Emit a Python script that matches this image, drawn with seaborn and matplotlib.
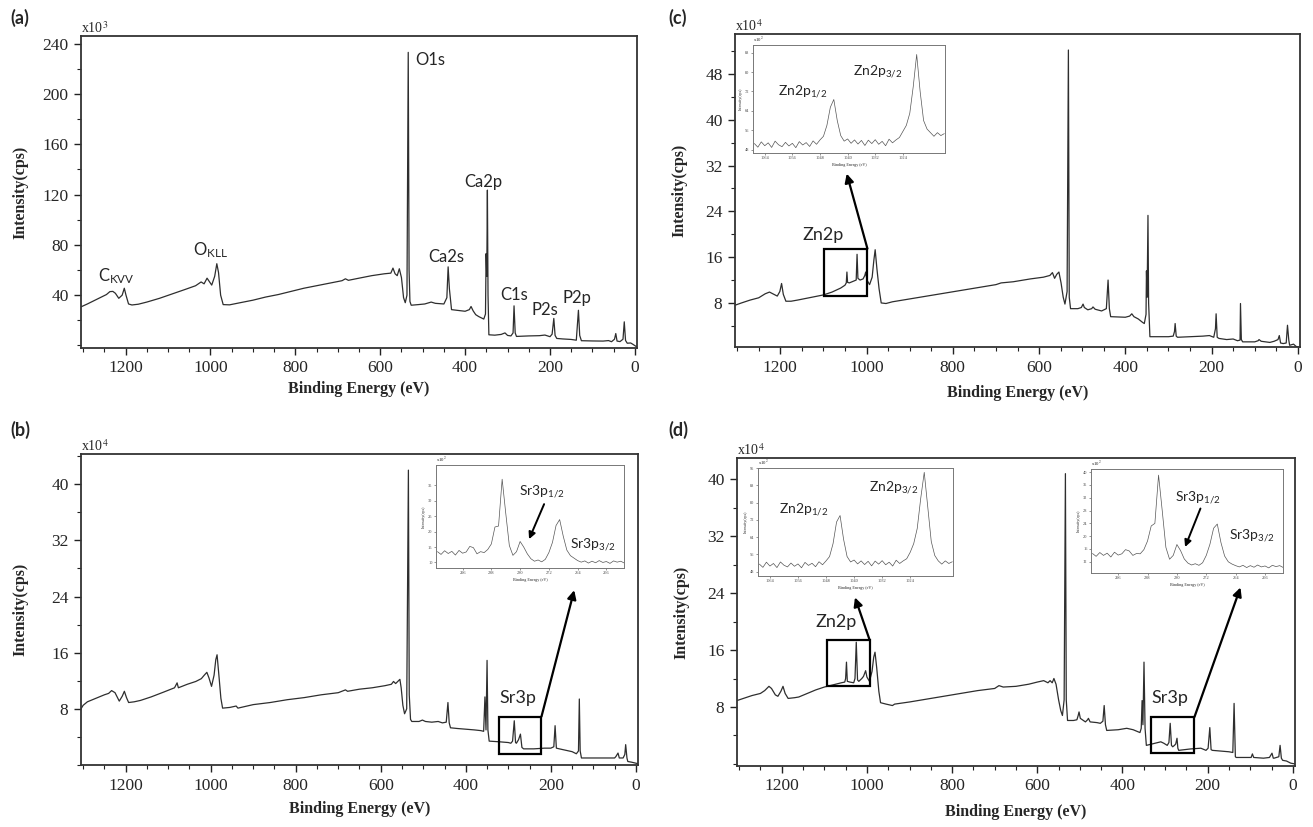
import matplotlib
matplotlib.use("Agg")
import matplotlib.pyplot as plt
from matplotlib.patches import Rectangle
from matplotlib.ticker import MultipleLocator, FixedLocator
import seaborn as sns

# ---------------- survey spectra (binding energy in eV, intensity in panel units) ----------------
# (a) HA, intensity x10^3
a_energy = [1305, 1290, 1275, 1260, 1245, 1237, 1230, 1224, 1216, 1208, 1203, 1199, 1193, 1185, 1170,
            1150, 1120, 1090, 1060, 1035, 1022, 1015, 1008, 1002, 997, 990, 985, 981, 976, 970, 955,
            930, 900, 870, 840, 810, 780, 750, 720, 690, 682, 675, 650, 620, 590, 575, 570, 565, 560,
            555, 550, 545, 541, 537, 534, 532, 530, 527, 510, 495, 480, 470, 450, 443, 440, 437, 432,
            420, 400, 390, 386, 381, 375, 368, 362, 356, 352, 350.5, 349, 347.5, 346, 344, 330, 315,
            306, 300, 292, 287, 284.7, 282, 279, 250, 225, 212, 200, 195, 191, 188, 184, 170, 150, 138,
            133, 130, 126, 100, 75, 62, 55, 48, 45, 42, 35, 28, 25, 22, 18, 10, 5, -4]
a_counts = [30.7, 33.0, 35.5, 38.0, 40.5, 42.8, 43.0, 41.5, 37.5, 40.0, 45.5, 40.0, 33.0, 32.2, 32.8,
            34.5, 37.5, 41.0, 44.5, 47.5, 50.5, 49.0, 53.5, 50.5, 48.0, 55.0, 65.0, 58.0, 40.0, 32.5, 32.3,
            34.0, 36.0, 38.5, 40.5, 43.0, 45.5, 47.5, 49.5, 51.5, 53.0, 51.8, 53.5, 55.5, 57.0, 57.5, 61.5,
            57.0, 55.5, 61.0, 54.0, 38.0, 34.0, 40.0, 233.0, 60.0, 35.0, 32.0, 32.5, 33.0, 34.5, 33.5,
            33.0, 38.0, 62.5, 45.0, 28.5, 28.0, 27.2, 28.5, 31.0, 27.5, 24.5, 23.0, 22.0, 21.0, 25.0,
            73.0, 55.0, 123.5, 40.0, 8.5, 8.2, 8.8, 10.0, 8.0, 7.6, 10.0, 31.5, 10.0, 7.2, 7.6, 7.8, 8.3,
            7.0, 9.0, 21.5, 8.0, 5.6, 5.2, 4.8, 4.2, 28.0, 8.0, 3.8, 3.6, 3.5, 3.9, 3.0, 5.0, 9.5, 3.5,
            3.1, 5.0, 18.8, 4.0, 1.8, 2.0, 1.0, -1.0]

# (b) Sr-doped, intensity x10^4
b_energy = [1305, 1300, 1290, 1270, 1250, 1240, 1233, 1225, 1215, 1208, 1203, 1198, 1193, 1180, 1165,
            1140, 1110, 1085, 1079, 1076, 1055, 1035, 1022, 1015, 1009, 1004, 998, 992, 988, 985, 981,
            976, 972, 955, 940, 936, 900, 860, 820, 780, 740, 700, 683, 678, 650, 620, 590, 575, 570,
            565, 560, 555, 552, 548, 544, 539, 535, 533, 530, 527, 510, 502, 495, 480, 465, 455, 446,
            442, 439, 436, 420, 400, 380, 365, 358, 355, 352.5, 350, 348, 345, 320, 300, 294, 290, 286,
            283, 281, 276, 271.5, 268, 264, 240, 215, 200, 193, 190, 187, 180, 165, 150, 140, 135, 133,
            131, 128, 100, 70, 50, 47, 42, 39, 30, 26, 24, 21, 19, 10, -4]
b_counts = [8.0, 8.5, 9.0, 9.5, 10.0, 10.2, 10.6, 10.3, 9.1, 9.8, 10.5, 9.6, 8.9, 9.0, 9.2,
            9.7, 10.4, 11.0, 11.7, 11.0, 11.5, 11.9, 12.3, 12.8, 13.2, 12.4, 11.2, 12.8, 15.0, 15.7, 13.0,
            9.5, 8.1, 8.2, 8.4, 8.1, 8.6, 8.9, 9.3, 9.6, 10.0, 10.3, 10.7, 10.5, 10.8, 11.0, 11.3, 11.5,
            11.9, 11.6, 11.9, 12.2, 11.0, 8.5, 7.3, 8.0, 42.0, 10.0, 6.5, 6.2, 6.2, 6.4, 6.2, 6.1, 6.2,
            6.0, 6.1, 8.9, 6.0, 5.3, 5.2, 5.1, 5.0, 4.9, 4.8, 9.7, 5.0, 14.9, 5.0, 3.4, 3.3, 3.2, 3.1,
            3.4, 6.3, 3.2, 3.1, 3.6, 4.4, 2.5, 2.3, 2.3, 2.4, 2.4, 2.6, 5.6, 2.4, 2.3, 2.1, 1.9, 1.6,
            2.0, 9.4, 2.0, 1.0, 1.0, 1.0, 1.0, 1.2, 1.7, 1.0, 1.0, 1.5, 2.9, 1.0, 0.5, 0.4, 0.2]

# (c) Zn-doped, intensity x10^4
c_energy = [1305, 1290, 1270, 1250, 1235, 1225, 1215, 1207, 1201, 1197, 1193, 1187, 1175, 1160, 1140,
            1120, 1100, 1080, 1060, 1050, 1047, 1045.5, 1044, 1040, 1030, 1024, 1022, 1020, 1015, 1008,
            1004, 1002, 999, 993, 987, 983, 980, 976, 971, 966, 955, 940, 900, 860, 820, 780, 740, 700,
            688, 660, 620, 590, 575, 569, 564, 559, 554, 549, 544, 540, 535, 532, 530, 527, 510, 502,
            498, 495, 487, 478, 475, 470, 455, 444, 440, 437, 434, 400, 390, 385, 380, 370, 360, 356,
            352, 351, 349.5, 347.5, 346, 343, 320, 300, 289, 286, 284.5, 282, 279, 250, 220, 205, 195,
            191, 189.5, 187, 183, 165, 150, 140, 134, 133, 131, 128, 100, 92, 90, 85, 65, 55, 46, 43,
            40, 34, 27, 24, 21, 19, 10, 4, -4]
c_counts = [7.6, 8.0, 8.5, 8.9, 9.6, 9.9, 9.5, 9.2, 10.0, 11.4, 9.5, 8.3, 8.3, 8.5, 8.8,
            9.1, 9.4, 9.9, 10.6, 11.1, 11.5, 13.4, 11.6, 11.5, 11.8, 12.0, 16.5, 12.3, 12.0, 12.2,
            12.8, 13.4, 12.0, 11.2, 12.5, 15.5, 17.3, 14.0, 10.5, 8.0, 7.9, 8.2, 8.7, 9.2, 9.7, 10.2,
            10.7, 11.2, 11.5, 11.7, 12.2, 12.5, 12.8, 13.3, 12.3, 13.0, 13.4, 11.5, 9.0, 7.8, 10.0, 52.2,
            9.0, 7.0, 7.0, 7.2, 7.8, 7.2, 6.8, 7.0, 7.3, 6.9, 6.6, 7.0, 12.0, 7.0, 5.6, 5.5, 5.7, 6.1,
            5.6, 5.2, 4.6, 4.4, 6.0, 13.6, 9.0, 23.3, 8.0, 2.1, 2.1, 2.1, 2.2, 3.0, 4.4, 2.2, 2.0, 2.1,
            2.2, 2.3, 2.0, 3.5, 6.1, 2.0, 1.8, 1.6, 1.7, 1.4, 1.5, 7.9, 1.6, 1.2, 1.2, 1.4, 1.6, 1.3,
            1.1, 1.3, 1.6, 2.3, 1.0, 0.9, 1.0, 4.1, 1.5, 0.6, 0.8, 0.4, 0.2]

# (d) Sr/Zn co-doped, intensity x10^4
d_energy = [1305, 1290, 1270, 1250, 1240, 1230, 1224, 1215, 1209, 1202, 1197, 1192, 1185, 1170, 1160,
            1140, 1120, 1100, 1080, 1060, 1052, 1050, 1048, 1046, 1040, 1031, 1028, 1025, 1022, 1019,
            1012, 1008, 1005, 1003, 1000, 994, 988, 984, 981, 977, 972, 968, 955, 940, 935, 900, 860,
            820, 780, 740, 700, 690, 680, 650, 620, 600, 585, 575, 570, 565, 561, 556, 550, 545, 541,
            537, 534, 532, 529, 515, 507, 504, 502, 499, 487, 482, 480, 476, 460, 452, 446, 443, 440,
            437, 410, 390, 375, 359, 356, 354, 352, 349.5, 347, 344, 330, 315, 310, 303, 295, 291, 288,
            285, 282, 278, 275, 272, 270, 268, 240, 216, 208, 204, 199, 195, 192, 189, 170, 150, 141,
            138, 135, 133, 110, 98, 95, 92, 69, 55, 49, 46, 44, 33, 30, 27, 24, 15, 5, -4]
d_counts = [8.9, 9.2, 9.6, 9.9, 10.3, 10.9, 10.6, 9.7, 9.5, 10.2, 10.9, 9.9, 9.2, 9.3, 9.4,
            9.9, 10.4, 10.8, 11.1, 11.4, 11.5, 12.0, 14.3, 11.6, 11.5, 11.4, 12.0, 17.1, 11.8, 11.6,
            12.0, 12.3, 12.8, 13.1, 12.2, 11.6, 13.0, 15.0, 15.7, 13.5, 10.2, 8.6, 8.4, 8.2, 8.4, 8.7,
            9.1, 9.5, 9.9, 10.3, 10.6, 11.0, 10.8, 10.9, 11.2, 11.5, 11.7, 11.4, 11.7, 11.4, 12.0, 11.2,
            9.0, 7.5, 6.8, 9.0, 40.8, 9.0, 6.1, 6.1, 6.2, 6.8, 7.3, 6.4, 5.9, 6.2, 6.4, 5.9, 5.8, 5.7,
            6.0, 8.2, 5.5, 4.7, 4.8, 5.0, 4.8, 4.4, 5.0, 8.9, 5.5, 14.3, 5.0, 2.6, 2.8, 3.0, 3.1, 2.9,
            2.6, 3.0, 5.7, 2.6, 2.4, 2.6, 2.8, 3.6, 2.2, 1.9, 2.1, 2.2, 2.0, 1.9, 2.2, 5.1, 2.0, 1.9,
            1.8, 1.7, 1.6, 8.5, 1.0, 0.9, 0.9, 0.9, 1.4, 0.9, 0.8, 0.9, 1.5, 0.8, 0.8, 1.0, 2.6, 0.8,
            0.5, 0.4, 0.1, 0.0]

# ---------------- high-resolution insets (intensity x10^2) ----------------
zn_energy = list(range(1067, 1011, -1))
zn_c_counts = [50.5, 49.0, 51.2, 49.6, 50.8, 48.9, 51.5, 50.0, 49.2, 51.0, 49.5, 50.6, 48.8, 51.3,
               49.9, 50.9, 49.3, 51.6, 50.2, 52.0, 53.5, 58.0, 65.5, 68.7, 60.0, 53.8, 51.5, 52.4,
               50.6, 52.0, 50.3, 51.8, 49.7, 51.9, 50.5, 52.1, 50.2, 51.4, 49.6, 52.3, 50.8, 52.0,
               53.0, 55.5, 58.0, 63.0, 74.0, 87.3, 72.0, 60.0, 56.5, 55.0, 53.5, 55.0, 53.8, 54.6]
zn_d_counts = [51.5, 50.0, 52.4, 50.6, 51.8, 49.9, 52.5, 51.0, 50.2, 52.0, 50.5, 51.6, 49.8, 52.3,
               50.9, 51.9, 50.3, 52.6, 51.2, 53.0, 55.0, 61.0, 71.0, 74.0, 63.0, 55.0, 52.5, 53.4,
               51.6, 53.0, 51.3, 52.8, 50.7, 52.9, 51.5, 53.1, 51.2, 52.4, 50.6, 53.3, 51.8, 53.0,
               54.0, 57.0, 61.0, 68.0, 82.0, 94.0, 78.0, 62.0, 55.5, 53.0, 51.5, 53.0, 51.8, 52.6]
sr_energy = list(range(303, 250, -1))
sr_b_counts = [13.5, 12.6, 13.8, 12.9, 13.6, 12.4, 13.9, 13.0, 13.4, 15.2, 14.8, 12.8, 13.5, 13.2,
               14.2, 16.0, 21.5, 21.8, 37.0, 26.0, 15.5, 12.3, 13.5, 16.8, 15.0, 12.8, 11.2, 10.4,
               10.8, 10.2, 11.0, 13.2, 16.5, 22.0, 23.9, 18.5, 14.0, 12.2, 11.4, 10.6, 10.1, 10.5,
               9.8, 10.4, 9.9, 10.6, 10.0, 10.3, 9.7, 10.5, 10.1, 10.4, 9.8]
sr_d_counts = [14.6, 13.7, 14.9, 14.0, 14.7, 13.5, 15.0, 14.1, 14.5, 15.8, 15.4, 14.0, 14.6, 14.5,
               15.8, 18.5, 23.2, 24.0, 39.1, 28.0, 16.5, 12.8, 14.0, 17.4, 15.5, 12.9, 11.6, 11.0,
               11.4, 10.9, 11.7, 14.0, 17.5, 22.5, 23.8, 18.0, 13.8, 12.0, 11.3, 10.8, 10.4, 10.9,
               10.2, 10.8, 10.3, 11.0, 10.4, 10.7, 10.1, 10.9, 10.5, 10.8, 10.2]

sns.set_style("ticks")
plt.rcParams["font.family"] = ["Liberation Serif", "DejaVu Serif"]
plt.rcParams["mathtext.fontset"] = "custom"
plt.rcParams["mathtext.rm"] = "Lato"
plt.rcParams["mathtext.it"] = "Lato:italic"
plt.rcParams["mathtext.bf"] = "Lato:bold"

LINE = "#2e2e2e"
SANS = ["Lato", "DejaVu Sans"]

fig = plt.figure(figsize=(13.13, 8.27), dpi=100)


def px_axes(left, top, right, bottom):
    # axes placed by pixel box on the 1313x827 canvas
    W, H = 1313, 827
    return fig.add_axes([left / W, 1 - bottom / H, (right - left) / W, (bottom - top) / H])


def style_main(ax, ylim, yticks, yminor, power, xlab_y, ylab_x):
    ax.set_xlim(1305, -5)
    ax.set_ylim(*ylim)
    ax.xaxis.set_major_locator(MultipleLocator(200))
    ax.xaxis.set_minor_locator(MultipleLocator(50))
    ax.yaxis.set_major_locator(FixedLocator(yticks))
    ax.yaxis.set_minor_locator(MultipleLocator(yminor))
    ax.tick_params(which="both", direction="out", top=False, right=False, color="#222222")
    ax.tick_params(which="major", length=5, width=1.0, labelsize=12.5, pad=4)
    ax.tick_params(which="minor", length=3, width=0.8)
    for s in ax.spines.values():
        s.set_linewidth(1.3)
        s.set_color("#333333")
    ax.set_xlabel("Binding Energy (eV)", fontweight="bold", fontsize=11.5)
    ax.set_ylabel("Intensity(cps)", fontweight="bold", fontsize=11.5)
    ax.xaxis.set_label_coords(0.5, xlab_y)
    ax.yaxis.set_label_coords(ylab_x, 0.5)
    ax.text(0, 1.0, "x10$^{%d}$" % power, transform=ax.transAxes, ha="left", va="bottom",
            fontsize=10, math_fontfamily="stix")


def style_inset(ax, xlim, ylim, xticks, yticks):
    ax.set_xlim(*xlim)
    ax.set_ylim(*ylim)
    ax.set_xticks(xticks)
    ax.set_yticks(yticks)
    ax.tick_params(labelsize=3.2, length=1.5, width=0.4, pad=1, colors="#444444")
    for s in ax.spines.values():
        s.set_linewidth(0.7)
        s.set_color("#777777")
    ax.set_xlabel("Binding Energy (eV)", fontsize=3, labelpad=1.5)
    ax.set_ylabel("Intensity(cps)", fontsize=3, labelpad=1.5)
    ax.text(0.0, 1.0, "x10$^{2}$", transform=ax.transAxes, ha="left", va="bottom",
            fontsize=3.5, math_fontfamily="stix")


def spectrum(ax, x, y, lw=0.9, color=LINE):
    sns.lineplot(x=x, y=y, ax=ax, color=color, linewidth=lw, sort=False, estimator=None, legend=False)


def label(ax, x, y, s, size=12):
    ax.text(x, y, s, fontsize=size, family=SANS, va="center", ha="left")


def inset_label(ax, x, y, s):
    ax.text(x, y, s, transform=ax.transAxes, fontsize=10, family=SANS, va="center")


def box_arrow(ax, x0, x1, y0, y1, tip):
    ax.add_patch(Rectangle((x1, y0), x0 - x1, y1 - y0, fill=False, lw=1.6, ec="black", zorder=5))
    ax.annotate("", xy=tip, xytext=(x1, y1),
                arrowprops=dict(arrowstyle="-|>", lw=1.6, color="black", mutation_scale=13,
                                shrinkA=0, shrinkB=0), zorder=6)


def inset_arrow(ax, tip, tail):
    ax.annotate("", xy=tip, xytext=tail, xycoords="axes fraction",
                arrowprops=dict(arrowstyle="-|>", lw=1.4, color="black", mutation_scale=10,
                                shrinkA=0, shrinkB=0))


# ---------------- (a) ----------------
ax_a = px_axes(81, 36, 637, 348)
spectrum(ax_a, a_energy, a_counts)
style_main(ax_a, (-2, 246), [40, 80, 120, 160, 200, 240], 20, 3, -0.105, -0.095)
label(ax_a, 1265, 55, "C$_{\\mathregular{KVV}}$")
label(ax_a, 1041, 76, "O$_{\\mathregular{KLL}}$")
label(ax_a, 518, 227, "O1s")
label(ax_a, 403, 130, "Ca2p")
label(ax_a, 488, 70.5, "Ca2s")
label(ax_a, 318, 40, "C1s")
label(ax_a, 244, 28, "P2s")
label(ax_a, 171, 38, "P2p")

# ---------------- (c) ----------------
ax_c = px_axes(735, 34, 1300, 347)
spectrum(ax_c, c_energy, c_counts)
style_main(ax_c, (0.3, 55), [8, 16, 24, 32, 40, 48], 4, 4, -0.12, -0.085)
box_arrow(ax_c, 1099, 998, 9.2, 17.5, (1046, 30.6))
label(ax_c, 1148, 19.8, "Zn2p", size=13)

ins_c = px_axes(753, 45, 945, 153)
spectrum(ins_c, zn_energy, zn_c_counts, lw=0.5, color="#555555")
style_inset(ins_c, (1067.4, 1011.8), (46.6, 91.2), [1064, 1056, 1048, 1040, 1032, 1024],
            [48, 56, 64, 72, 80, 88])
inset_label(ins_c, 0.13, 0.57, "Zn2p$_{\\mathregular{1/2}}$")
inset_label(ins_c, 0.52, 0.75, "Zn2p$_{\\mathregular{3/2}}$")

# ---------------- (b) ----------------
ax_b = px_axes(81, 454, 638, 765)
spectrum(ax_b, b_energy, b_counts)
style_main(ax_b, (0, 44.3), [8, 16, 24, 32, 40], 4, 4, -0.115, -0.095)
box_arrow(ax_b, 321, 222, 1.6, 6.9, (145, 24.9))
label(ax_b, 322, 9.6, "Sr3p", size=13)

ins_b = px_axes(436, 465, 624, 568)
spectrum(ins_b, sr_energy, sr_b_counts, lw=0.5, color="#555555")
style_inset(ins_b, (303.4, 251.1), (8.2, 41.6), [296, 288, 280, 272, 264, 256],
            [10, 15, 20, 25, 30, 35])
inset_label(ins_b, 0.44, 0.74, "Sr3p$_{\\mathregular{1/2}}$")
inset_label(ins_b, 0.715, 0.23, "Sr3p$_{\\mathregular{3/2}}$")
inset_arrow(ins_b, (0.495, 0.28), (0.575, 0.62))

# ---------------- (d) ----------------
ax_d = px_axes(737, 458, 1295, 766)
spectrum(ax_d, d_energy, d_counts)
style_main(ax_d, (-0.3, 43), [8, 16, 24, 32, 40], 4, 4, -0.125, -0.085)
box_arrow(ax_d, 1094, 993.5, 10.9, 17.4, (1028, 23.4))
box_arrow(ax_d, 332.5, 231, 1.5, 6.6, (123, 24.8))
label(ax_d, 1120, 19.9, "Zn2p", size=13)
label(ax_d, 332, 9.2, "Sr3p", size=13)

ins_dz = px_axes(758, 468, 953, 576)
spectrum(ins_dz, zn_energy, zn_d_counts, lw=0.5, color="#555555")
style_inset(ins_dz, (1067.4, 1011.8), (46.0, 96.0), [1064, 1056, 1048, 1040, 1032, 1024],
            [48, 56, 64, 72, 80, 88, 96])
inset_label(ins_dz, 0.11, 0.61, "Zn2p$_{\\mathregular{1/2}}$")
inset_label(ins_dz, 0.57, 0.82, "Zn2p$_{\\mathregular{3/2}}$")

ins_ds = px_axes(1091, 469, 1283, 573)
spectrum(ins_ds, sr_energy, sr_d_counts, lw=0.5, color="#555555")
style_inset(ins_ds, (303.4, 251.1), (8.5, 41.0), [296, 288, 280, 272, 264, 256],
            [12, 16, 20, 24, 28, 32, 36, 40])
inset_label(ins_ds, 0.44, 0.72, "Sr3p$_{\\mathregular{1/2}}$")
inset_label(ins_ds, 0.72, 0.36, "Sr3p$_{\\mathregular{3/2}}$")
inset_arrow(ins_ds, (0.49, 0.25), (0.57, 0.62))

# panel letters
for letter, x, y in [("(a)", 10, 18), ("(c)", 668, 18), ("(b)", 10, 430), ("(d)", 668, 430)]:
    fig.text(x / 1313, 1 - y / 827, letter, fontsize=13, fontweight="bold", family=SANS,
             ha="left", va="center")

fig.savefig("out.png", dpi=100, facecolor="white")
